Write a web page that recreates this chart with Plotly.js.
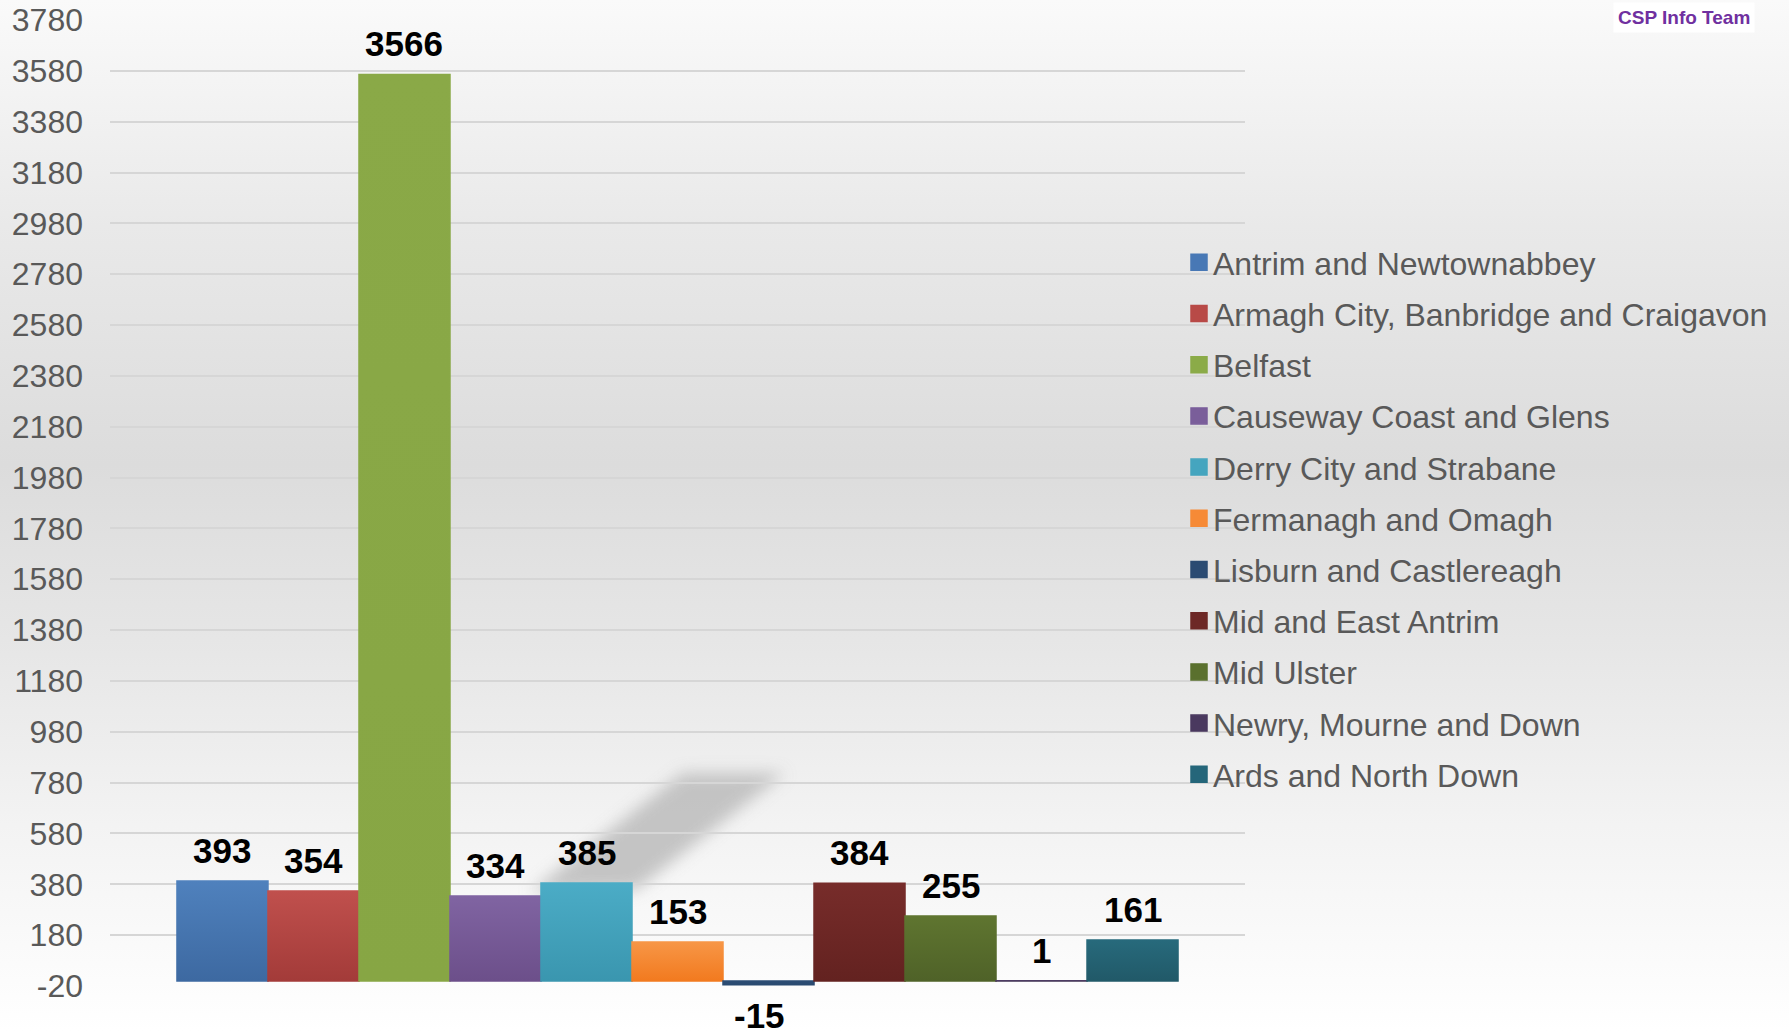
<!DOCTYPE html>
<html>
<head>
<meta charset="utf-8">
<script src="https://cdn.plot.ly/plotly-3.0.1.min.js"></script>
<style>
  html, body { margin: 0; padding: 0; }
  body {
    width: 1789px; height: 1032px; overflow: hidden;
    background: linear-gradient(to bottom, #fafafa 0%, #e9e9e9 22%, #dcdcdc 45%, #e6e6e6 62%, #f3f3f3 80%, #ffffff 100%);
  }
  #chart { width: 1789px; height: 1032px; }
</style>
</head>
<body>
<div id="chart"></div>
<script>
// ---- data ----
var councils = [
  "Antrim and Newtownabbey",
  "Armagh City, Banbridge and Craigavon",
  "Belfast",
  "Causeway Coast and Glens",
  "Derry City and Strabane",
  "Fermanagh and Omagh",
  "Lisburn and Castlereagh",
  "Mid and East Antrim",
  "Mid Ulster",
  "Newry, Mourne and Down",
  "Ards and North Down"
];
var values = [393, 354, 3566, 334, 385, 153, -15, 384, 255, 1, 161];
var colors = ["#4878b5", "#b84a47", "#8bab48", "#7a5e9a", "#45a5bf", "#f68a36",
              "#2b4b72", "#6d2826", "#5a702e", "#4a395f", "#25667a"];
// style: vertical gradient stops (top, bottom) per series
var colorsTop = ["#4f81bd", "#c0504d", "#8aa947", "#8064a2", "#4bacc6", "#f79646",
                 "#2c4d75", "#772c2a", "#5f7530", "#4d3b62", "#276a7c"];
var colorsBottom = ["#3d69a1", "#a33b39", "#87a644", "#6c4f8a", "#3a96af", "#f27a1f",
                    "#2a4a70", "#632220", "#4f6228", "#403152", "#215968"];
var yTickValues = [-20, 180, 380, 580, 780, 980, 1180, 1380, 1580, 1780, 1980,
                   2180, 2380, 2580, 2780, 2980, 3180, 3380, 3580, 3780];
var yTickLabels = ["-20", "180", "380", "580", "780", "980", "1180", "1380", "1580", "1780", "1980",
                   "2180", "2380", "2580", "2780", "2980", "3180", "3380", "3580", "3780"];

// ---- traces ----
var traces = councils.map(function (name, i) {
  return {
    type: "bar",
    name: name,
    legendgroup: "g" + i,
    x: [i],
    y: [values[i]],
    width: [1],
    marker: { color: colors[i], line: { width: 1.5, color: colors[i] } },
    hoverinfo: "name+y"
  };
});

var annotations = values.map(function (v, i) {
  return {
    x: i, y: v, xref: "x", yref: "y",
    text: String(v),
    showarrow: false,
    yanchor: "middle",
    height: 28,
    xshift: v >= 0 ? 0 : -9,
    yshift: v >= 0 ? 31 : -30,
    font: { family: "Liberation Sans, Arial, sans-serif", size: 35, color: "#000000", weight: "bold" }
  };
});
annotations.push({
  xref: "paper", yref: "paper", x: 1.387, y: 1.003,
  text: "<b>CSP Info Team</b>", showarrow: false,
  xanchor: "center", yanchor: "middle",
  bgcolor: "#ffffff", borderpad: 4,
  font: { family: "Liberation Sans, Arial, sans-serif", size: 19, color: "#7030A0" }
});

var layout = {
  width: 1789, height: 1032,
  margin: { l: 110, r: 544, t: 20, b: 46, pad: 0, autoexpand: false },
  paper_bgcolor: "rgba(0,0,0,0)",
  plot_bgcolor: "rgba(0,0,0,0)",
  barmode: "overlay",
  showlegend: true,
  font: { family: "Liberation Sans, Arial, sans-serif", color: "#595959" },
  xaxis: {
    range: [-1.236, 11.236], showticklabels: false, showgrid: false,
    zeroline: false, showline: false, fixedrange: true
  },
  yaxis: {
    range: [-20, 3780], tickmode: "array", tickvals: yTickValues, ticktext: yTickLabels,
    showgrid: true, gridcolor: "#d6d6d6", gridwidth: 2,
    zeroline: false, showline: false, ticks: "", ticklabelstandoff: 26,
    tickfont: { family: "Liberation Sans, Arial, sans-serif", size: 32, color: "#595959" }
  },
  legend: {
    xref: "container", yref: "container",
    x: 1173 / 1789, y: 1 - 235 / 1032, xanchor: "left", yanchor: "top",
    maxheight: 1,
    bgcolor: "rgba(0,0,0,0)", borderwidth: 0,
    tracegroupgap: 6.6,
    font: { family: "Liberation Sans, Arial, sans-serif", size: 32, color: "#595959" }
  },
  shapes: [{
    type: "path", xref: "paper", yref: "paper", layer: "between",
    path: "M0.5048,0.2205 L0.5947,0.2205 L0.4634,0.0994 L0.370,0.0973 Z",
    fillcolor: "#bcbcbc", line: { width: 0 }, opacity: 0.85
  }],
  annotations: annotations
};

Plotly.newPlot("chart", traces, layout, { displayModeBar: false, staticPlot: true }).then(function () {
  var svg = document.querySelector("#chart svg.main-svg");
  var defs = svg.querySelector("defs");
  var ns = "http://www.w3.org/2000/svg";
  var f = document.createElementNS(ns, "filter");
  f.setAttribute("id", "shadowblur");
  f.setAttribute("x", "-50%"); f.setAttribute("y", "-50%");
  f.setAttribute("width", "200%"); f.setAttribute("height", "200%");
  var g = document.createElementNS(ns, "feGaussianBlur");
  g.setAttribute("stdDeviation", "8");
  f.appendChild(g);
  defs.appendChild(f);
  colorsTop.forEach(function (c, i) {
    var lg = document.createElementNS(ns, "linearGradient");
    lg.setAttribute("id", "bargrad" + i);
    lg.setAttribute("x1", "0"); lg.setAttribute("y1", "0");
    lg.setAttribute("x2", "0"); lg.setAttribute("y2", "1");
    var s1 = document.createElementNS(ns, "stop");
    s1.setAttribute("offset", "0"); s1.setAttribute("stop-color", c);
    var s2 = document.createElementNS(ns, "stop");
    s2.setAttribute("offset", "1"); s2.setAttribute("stop-color", colorsBottom[i]);
    lg.appendChild(s1); lg.appendChild(s2);
    defs.appendChild(lg);
  });
  document.querySelectorAll("#chart .shapelayer path").forEach(function (p) {
    p.setAttribute("filter", "url(#shadowblur)");
  });
  document.querySelectorAll("#chart .barlayer .trace").forEach(function (t, i) {
    t.querySelectorAll(".point path").forEach(function (p) {
      p.style.fill = "url(#bargrad" + i + ")";
      p.style.stroke = "url(#bargrad" + i + ")";
    });
  });
  document.querySelectorAll("#chart .legend .legendpoints path").forEach(function (p) {
    p.setAttribute("d", "M14,8H-2V-8H14Z");
  });
});
</script>
</body>
</html>
